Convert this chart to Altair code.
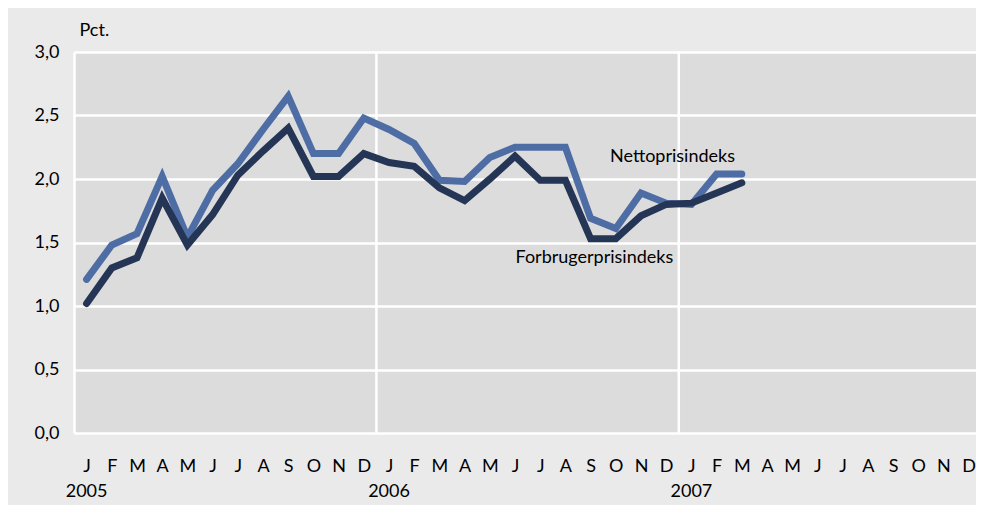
import altair as alt
import pandas as pd

month_letters = ["J", "F", "M", "A", "M", "J", "J", "A", "S", "O", "N", "D"]
years = ["2005", "2006", "2007"]

netto = [1.21, 1.48, 1.57, 2.02, 1.54, 1.91, 2.12, 2.39, 2.65, 2.20, 2.20, 2.48,
         2.39, 2.28, 1.99, 1.98, 2.17, 2.25, 2.25, 2.25, 1.69, 1.61, 1.89, 1.81,
         1.80, 2.04, 2.04]
forbruger = [1.02, 1.30, 1.38, 1.85, 1.48, 1.72, 2.03, 2.22, 2.40, 2.02, 2.02, 2.20,
             2.13, 2.10, 1.93, 1.83, 2.00, 2.18, 1.99, 1.99, 1.53, 1.53, 1.71, 1.80,
             1.81, 1.89, 1.97]

label_names = ["Nettoprisindeks", "Forbrugerprisindeks"]
label_month = [23.25, 20.15]
label_value = [2.134, 1.34]

FONT = "Lato"
FS = 18

df_n = pd.DataFrame({"m": list(range(len(netto))), "v": netto})
df_f = pd.DataFrame({"m": list(range(len(forbruger))), "v": forbruger})
df_years = pd.DataFrame({"m": [i * 12 for i in range(len(years))], "year": years})
df_sep = pd.DataFrame({"m": [i * 12 - 0.5 for i in range(1, len(years))]})
df_lab = pd.DataFrame({"name": label_names, "m": label_month, "v": label_value})

W, H = 902, 381
n_months = 12 * len(years)
px_per_month = 25.2
x_domain = [-0.5, -0.5 + W / px_per_month]

letters_js = "[" + ",".join("'" + c + "'" for c in month_letters) + "]"

x_scale = alt.Scale(domain=x_domain, nice=False, zero=False)
y_scale = alt.Scale(domain=[0, 3], nice=False)

x_axis = alt.Axis(
    values=list(range(n_months)),
    labelExpr=letters_js + "[datum.value % 12]",
    grid=False, ticks=False, domain=False,
    labelFont=FONT, labelFontSize=FS, labelColor="#000000",
    labelBaseline="top", labelPadding=24, labelFlush=False, labelOverlap=False,
    title=None,
)
y_axis = alt.Axis(
    values=[0, 0.5, 1, 1.5, 2, 2.5, 3],
    labelExpr="replace(format(datum.value, '.1f'), '.', ',')",
    grid=True, gridColor="white", gridWidth=2.5, gridOpacity=1,
    ticks=False, domain=True, domainColor="white", domainWidth=2.5,
    labelFont=FONT, labelFontSize=FS, labelColor="#000000", labelPadding=15,
    title="Pct.", titleAngle=0, titleX=5, titleY=-13, titleAlign="left",
    titleBaseline="bottom", titleFont=FONT, titleFontSize=FS,
    titleFontWeight="normal", titleColor="#000000",
)

seps = alt.Chart(df_sep).mark_rule(color="white", strokeWidth=2.5).encode(
    x=alt.X("m:Q", scale=x_scale, axis=x_axis),
)

line_n = alt.Chart(df_n).mark_line(
    color="#4E6DA5", strokeWidth=7, strokeCap="round", strokeJoin="miter"
).encode(
    x=alt.X("m:Q", scale=x_scale, axis=x_axis),
    y=alt.Y("v:Q", scale=y_scale, axis=y_axis),
)

line_f = alt.Chart(df_f).mark_line(
    color="#253556", strokeWidth=7, strokeCap="round", strokeJoin="miter"
).encode(
    x=alt.X("m:Q", scale=x_scale, axis=x_axis),
    y=alt.Y("v:Q", scale=y_scale, axis=y_axis),
)

labels = alt.Chart(df_lab).mark_text(
    font=FONT, fontSize=FS, color="#000000", align="center", baseline="alphabetic"
).encode(
    x=alt.X("m:Q", scale=x_scale, axis=x_axis),
    y=alt.Y("v:Q", scale=y_scale, axis=y_axis),
    text="name:N",
)

year_text = alt.Chart(df_years).mark_text(
    font=FONT, fontSize=FS, color="#000000", align="center", baseline="top"
).encode(
    x=alt.X("m:Q", scale=x_scale, axis=x_axis),
    y=alt.value(H + 50),
    text="year:N",
)

chart = alt.layer(seps, line_n, line_f, labels, year_text).properties(
    width=W, height=H,
    autosize=alt.AutoSizeParams(type="none"),
    padding={"left": 66, "top": 44, "right": 0, "bottom": 72},
    background="#EAEAEA",
).configure_view(
    fill="#DCDCDC", strokeWidth=0
)

chart.save("out.html", embed_options={"renderer": "svg", "actions": False})
